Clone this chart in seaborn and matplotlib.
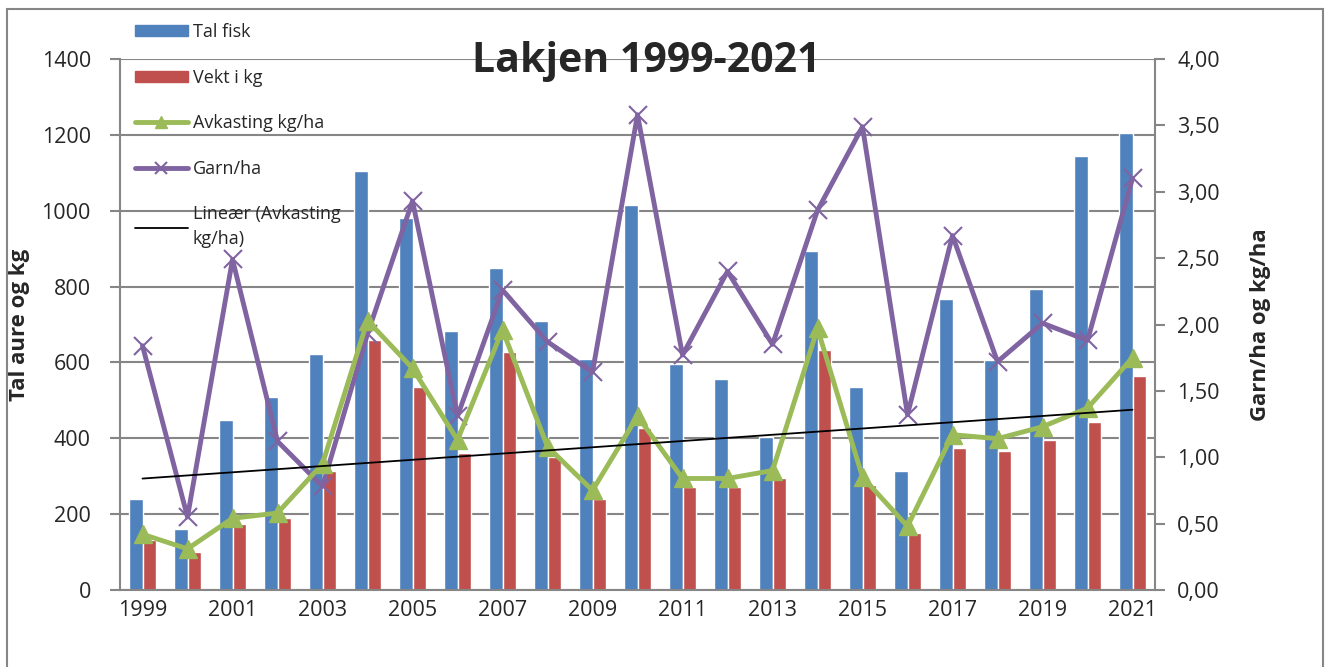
import matplotlib
matplotlib.use("Agg")
import matplotlib.pyplot as plt
import matplotlib.patches as mpatches
from matplotlib.lines import Line2D
import numpy as np
import pandas as pd
import seaborn as sns

years = [str(y) for y in range(1999, 2022)]
tal_fisk = [240, 160, 448, 510, 622, 1105, 982, 684, 848, 709, 608, 1015, 596, 557, 403,
            894, 535, 314, 767, 607, 793, 1145, 1204]
vekt_kg = [132, 101, 173, 189, 315, 659, 536, 360, 627, 350, 241, 426, 272, 272, 296,
           633, 276, 150, 375, 367, 396, 443, 564]
avkasting = [0.42, 0.31, 0.54, 0.58, 0.95, 2.03, 1.67, 1.13, 1.96, 1.08, 0.75, 1.31, 0.84,
             0.84, 0.90, 1.97, 0.85, 0.48, 1.17, 1.14, 1.23, 1.37, 1.75]
garn_ha = [1.84, 0.55, 2.49, 1.12, 0.78, 1.93, 2.93, 1.31, 2.26, 1.87, 1.64, 3.58, 1.77,
           2.40, 1.85, 2.86, 3.49, 1.32, 2.67, 1.72, 2.01, 1.88, 3.10]

BLUE = "#4F81BD"
RED = "#C0504D"
GREEN = "#9BBB59"
PURPLE = "#8064A2"
GRID = "#868686"

sns.set_style("white")
plt.rcParams["font.family"] = ["Open Sans", "DejaVu Sans"]

bars = pd.DataFrame({
    "year": years * 2,
    "value": tal_fisk + vekt_kg,
    "serie": ["Tal fisk"] * len(years) + ["Vekt i kg"] * len(years),
})

fig = plt.figure(figsize=(13.3, 6.67), dpi=100)
ax = fig.add_axes([120 / 1330, 1 - 590 / 667, 1035 / 1330, 531 / 667])

sns.barplot(data=bars, x="year", y="value", hue="serie", order=years,
            palette=[BLUE, RED], width=0.58, saturation=1, ax=ax, legend=False)
ax.set_xlim(-0.5, len(years) - 0.5)
ax.set_ylim(0, 1400)
ax.set_yticks(range(0, 1401, 200))
ax.grid(axis="y", color=GRID, lw=1.5)
ax.set_axisbelow(True)
for s in ["top", "right"]:
    ax.spines[s].set_visible(False)
for s in ["left", "bottom"]:
    ax.spines[s].set_color(GRID)
    ax.spines[s].set_linewidth(1.5)

ax.set_xticks(range(0, len(years), 2))
ax.set_xticklabels(years[::2])
ax.set_xticks(np.arange(-0.5, len(years), 1), minor=True)
ax.tick_params(axis="x", which="major", length=0, labelsize=15.5, pad=7)
ax.tick_params(axis="x", which="minor", length=7, width=1.5, color=GRID)
ax.tick_params(axis="y", length=7, width=1.5, color=GRID, labelsize=15.5, left=True, pad=14)
ax.set_xlabel("")
ax.set_ylabel("Tal aure og kg", fontsize=16, fontweight="bold")
ax.yaxis.set_label_coords(-0.087, 0.5)

ax2 = ax.twinx()
pos = np.arange(len(years))
ax2.plot(pos, garn_ha, color=PURPLE, lw=3.5, marker="x", ms=13, mew=1.5)
ax2.plot(pos, avkasting, color=GREEN, lw=3.5, marker="^", ms=13)
k, m = np.polyfit(pos, avkasting, 1)
ax2.plot(pos, k * pos + m, color="black", lw=1.3)
ax2.set_ylim(0, 4)
ax2.set_yticks(np.arange(0, 4.01, 0.5))
ax2.set_yticklabels([f"{v:.2f}".replace(".", ",") for v in np.arange(0, 4.01, 0.5)])
ax2.tick_params(axis="y", length=7, width=1.5, color=GRID, labelsize=15.5, right=True, pad=9)
for s in ["top", "left", "bottom"]:
    ax2.spines[s].set_visible(False)
ax2.spines["right"].set_color(GRID)
ax2.spines["right"].set_linewidth(1.5)
ax2.set_ylabel("Garn/ha og kg/ha", fontsize=16, fontweight="bold")
ax2.yaxis.set_label_coords(1.092, 0.5)
ax2.grid(False)

fig.text(646 / 1330, 1 - 61 / 667, "Lakjen 1999-2021", fontsize=29.5, fontweight="bold",
         ha="center", va="center", zorder=10)

handles = [
    mpatches.Patch(color=BLUE),
    mpatches.Patch(color=RED),
    Line2D([], [], color=GREEN, lw=3.5, marker="^", ms=9),
    Line2D([], [], color=PURPLE, lw=3.5, marker="x", ms=9, mew=1.5),
    Line2D([], [], color="black", lw=1.3),
]
labels = ["Tal fisk", "Vekt i kg", "Avkasting kg/ha", "Garn/ha", "Lineær (Avkasting\nkg/ha)"]
leg = fig.legend(handles, labels, loc="upper left", bbox_to_anchor=(128 / 1330, 1 - 16 / 667),
                 frameon=False, fontsize=13, handlelength=2.9, handleheight=0.55,
                 handletextpad=0.3, labelspacing=1.52, borderaxespad=0)
leg.get_texts()[-1].set_linespacing(1.5)

fig.patches.append(mpatches.Rectangle((7 / 1330, -0.05), 1316 / 1330, 1 - 9 / 667 + 0.05,
                                      transform=fig.transFigure, fill=False,
                                      edgecolor=GRID, lw=1.5))

fig.savefig("out.png", dpi=100)
